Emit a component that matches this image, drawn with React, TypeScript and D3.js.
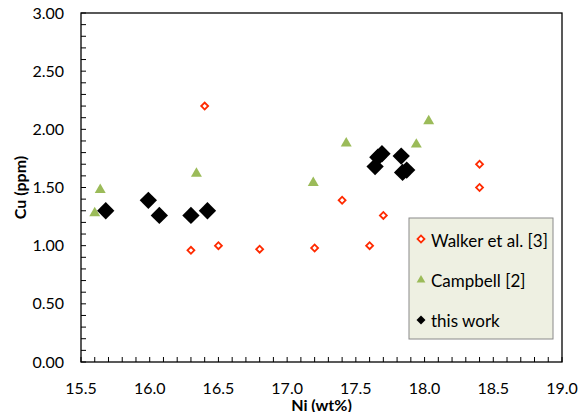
import React, { useEffect, useRef } from "react";
import * as d3 from "d3";

// Ni (wt%) / Cu (ppm)
const walkerNi = [16.4, 16.3, 16.5, 16.8, 17.2, 17.4, 17.6, 17.7, 18.4, 18.4];
const walkerCu = [2.2, 0.96, 1.0, 0.97, 0.98, 1.39, 1.0, 1.26, 1.7, 1.5];

const campbellNi = [15.6, 15.64, 16.34, 17.19, 17.43, 17.94, 18.03];
const campbellCu = [1.28, 1.48, 1.62, 1.54, 1.88, 1.87, 2.07];

const workNi = [15.68, 15.99, 16.07, 16.3, 16.42, 17.64, 17.66, 17.69, 17.83, 17.84, 17.87];
const workCu = [1.3, 1.39, 1.26, 1.26, 1.3, 1.68, 1.76, 1.79, 1.77, 1.63, 1.65];

const xTicks = [15.5, 16.0, 16.5, 17.0, 17.5, 18.0, 18.5, 19.0];
const yTicks = [0, 0.5, 1.0, 1.5, 2.0, 2.5, 3.0];
const legendNames = ["Walker et al. [3]", "Campbell [2]", "this work"];

const W = 579, H = 412;
const m = { left: 81, right: 17, top: 13, bottom: 50 };
const FONT = "Lato, 'Open Sans', sans-serif";

export default function App() {
  const ref = useRef<SVGSVGElement>(null);

  useEffect(() => {
    const svg = d3.select(ref.current);
    svg.selectAll("*").remove();

    const x = d3.scaleLinear().domain([15.5, 19.0]).range([m.left, W - m.right]);
    const y = d3.scaleLinear().domain([0, 3.0]).range([H - m.bottom, m.top]);

    const x0 = x.range()[0], x1 = x.range()[1];
    const y0 = y.range()[0], y1 = y.range()[1];

    // frame
    svg.append("rect")
      .attr("x", x0).attr("y", y1)
      .attr("width", x1 - x0).attr("height", y0 - y1)
      .attr("fill", "white").attr("stroke", "#000").attr("stroke-width", 1.3);

    // minor ticks, every 0.1
    const xMinor = d3.range(15.5, 19.0001, 0.1);
    svg.append("g").selectAll("line").data(xMinor).join("line")
      .attr("x1", d => x(d)).attr("x2", d => x(d))
      .attr("y1", y0).attr("y2", y0 - 5)
      .attr("stroke", "#000").attr("stroke-width", 1);
    const yMinor = d3.range(0, 3.0001, 0.1);
    svg.append("g").selectAll("line").data(yMinor).join("line")
      .attr("y1", d => y(d)).attr("y2", d => y(d))
      .attr("x1", x0).attr("x2", x0 + 5)
      .attr("stroke", "#000").attr("stroke-width", 1);

    // tick labels
    svg.append("g").selectAll("text").data(xTicks).join("text")
      .attr("x", d => x(d)).attr("y", y0 + 32)
      .attr("text-anchor", "middle")
      .style("font-family", FONT).style("font-size", "16px").attr("fill", "#000")
      .text(d => d.toFixed(1));
    svg.append("g").selectAll("text").data(yTicks).join("text")
      .attr("x", x0 - 17).attr("y", d => y(d))
      .attr("dy", "0.35em")
      .attr("text-anchor", "end")
      .style("font-family", FONT).style("font-size", "16px").attr("fill", "#000")
      .text(d => d.toFixed(2));

    // axis titles
    svg.append("text")
      .attr("x", (x0 + x1) / 2).attr("y", H - 1)
      .attr("text-anchor", "middle")
      .style("font-family", FONT).style("font-size", "16px").style("font-weight", "bold")
      .text("Ni (wt%)");
    svg.append("text")
      .attr("transform", `translate(26,${(y0 + y1) / 2}) rotate(-90)`)
      .attr("text-anchor", "middle")
      .style("font-family", FONT).style("font-size", "16px").style("font-weight", "bold")
      .text("Cu (ppm)");

    const smallDiamond = d3.symbol().type(d3.symbolSquare).size(24);
    const tri = d3.symbol().type(d3.symbolTriangle).size(52);
    const bigDiamond = d3.symbol().type(d3.symbolSquare).size(150);

    svg.append("g").selectAll("path").data(d3.range(walkerNi.length)).join("path")
      .attr("d", smallDiamond)
      .attr("transform", i => `translate(${x(walkerNi[i])},${y(walkerCu[i])}) rotate(45)`)
      .attr("fill", "white").attr("stroke", "#ff2a00").attr("stroke-width", 1.8);

    svg.append("g").selectAll("path").data(d3.range(campbellNi.length)).join("path")
      .attr("d", tri)
      .attr("transform", i => `translate(${x(campbellNi[i])},${y(campbellCu[i])})`)
      .attr("fill", "#9bbb59");

    svg.append("g").selectAll("path").data(d3.range(workNi.length)).join("path")
      .attr("d", bigDiamond)
      .attr("transform", i => `translate(${x(workNi[i])},${y(workCu[i])}) rotate(45)`)
      .attr("fill", "#000");

    // legend
    const lg = svg.append("g").attr("transform", "translate(409,218)");
    lg.append("rect").attr("width", 144).attr("height", 121)
      .attr("fill", "#eef0e2").attr("stroke", "#8a8a8a").attr("stroke-width", 1);
    const symbols = [smallDiamond, tri, d3.symbol().type(d3.symbolSquare).size(40)];
    legendNames.forEach((name, i) => {
      const cy = 23 + i * 40;
      const p = lg.append("path").attr("d", symbols[i]);
      if (i === 0) {
        p.attr("transform", `translate(12,${cy - 2}) rotate(45)`)
          .attr("fill", "white").attr("stroke", "#ff2a00").attr("stroke-width", 1.8);
      } else if (i === 1) {
        p.attr("transform", `translate(12,${cy - 1}) scale(0.8)`).attr("fill", "#9bbb59");
      } else {
        p.attr("transform", `translate(12,${cy - 1}) rotate(45)`).attr("fill", "#000");
      }
      lg.append("text").attr("x", 22).attr("y", cy).attr("dy", "0.35em")
        .style("font-family", FONT).style("font-size", "17px").attr("fill", "#000")
        .text(name);
    });
  }, []);

  return <svg ref={ref} width={W} height={H} style={{ display: "block", position: "absolute", left: 0, top: 0 }} />;
}
